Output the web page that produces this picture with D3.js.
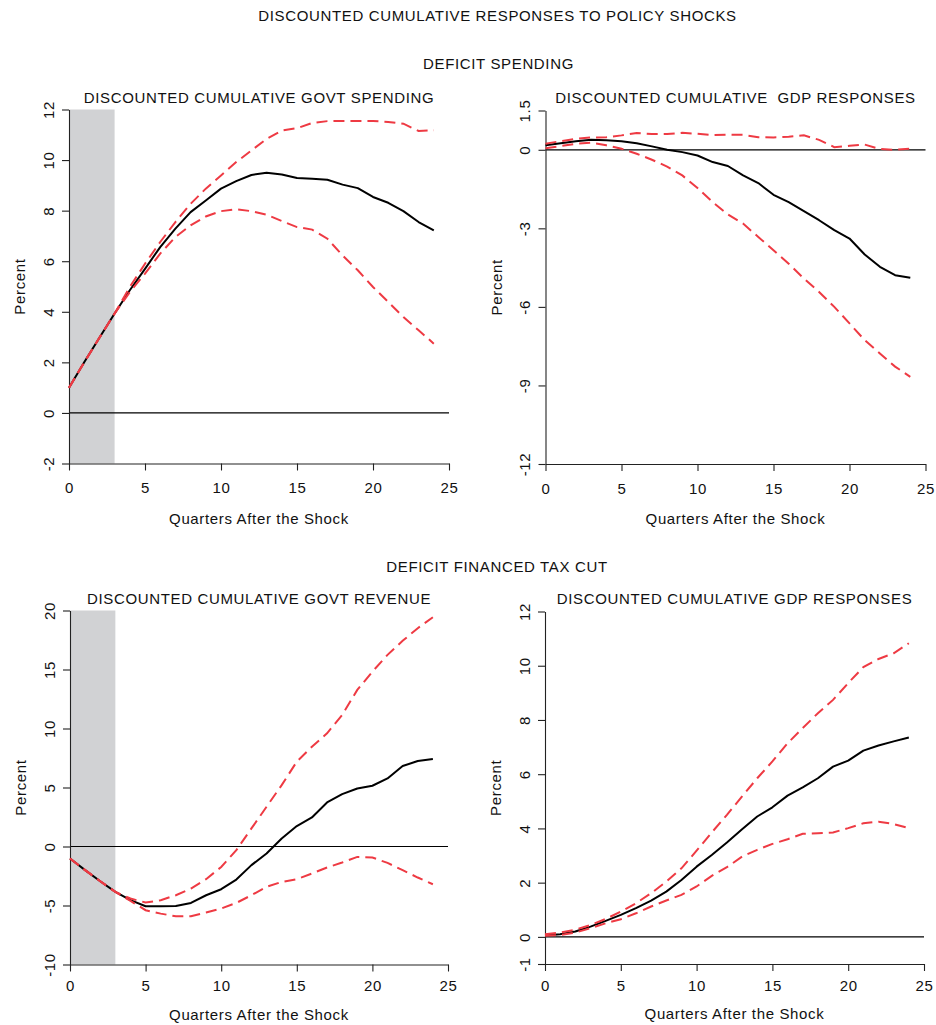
<!DOCTYPE html>
<html>
<head>
<meta charset="utf-8">
<script src="https://cdn.jsdelivr.net/npm/d3@7/dist/d3.min.js"></script>
<style>
  html, body { margin: 0; padding: 0; background: #fff; }
  svg { display: block; }
  text { font-family: "Liberation Sans", Arial, Helvetica, sans-serif; fill: #111; letter-spacing: 0.65px; }
</style>
</head>
<body>
<svg id="chart" width="936" height="1025"></svg>
<script>
// Horizon (quarters after the shock)
const quarters = [0,1,2,3,4,5,6,7,8,9,10,11,12,13,14,15,16,17,18,19,20,21,22,23,24];
const xTicks = [0,5,10,15,20,25];
// Quarters during which the policy shock is in place (shaded band)
const shockWindow = [0, 3];

// Deficit spending: discounted cumulative government spending (percent)
const spendGovtMean  = [1.0,2.0,2.97,3.93,4.85,5.7,6.56,7.29,7.94,8.4,8.87,9.17,9.41,9.5,9.43,9.29,9.26,9.22,9.03,8.89,8.54,8.31,7.98,7.55,7.22];
const spendGovtUpper = [1.0,2.0,2.97,3.93,4.98,5.9,6.76,7.55,8.27,8.87,9.39,9.92,10.38,10.84,11.17,11.26,11.47,11.54,11.55,11.55,11.55,11.51,11.44,11.15,11.18];
const spendGovtLower = [1.0,2.0,2.97,3.93,4.78,5.51,6.3,6.96,7.42,7.77,7.98,8.05,7.98,7.84,7.59,7.35,7.25,6.89,6.23,5.64,4.98,4.39,3.79,3.27,2.74];
const spendGovtTicks = [-2,0,2,4,6,8,10,12];

// Deficit spending: discounted cumulative GDP responses (percent)
const spendGdpMean  = [0.17,0.25,0.33,0.38,0.36,0.33,0.25,0.13,0.0,-0.09,-0.22,-0.47,-0.62,-0.98,-1.27,-1.72,-2.0,-2.34,-2.69,-3.07,-3.39,-4.0,-4.47,-4.79,-4.89];
const spendGdpUpper = [0.23,0.33,0.42,0.47,0.48,0.55,0.64,0.6,0.6,0.65,0.61,0.56,0.58,0.57,0.48,0.47,0.5,0.55,0.38,0.1,0.15,0.2,0.03,0.0,0.04];
const spendGdpLower = [0.06,0.14,0.23,0.27,0.17,0.04,-0.15,-0.38,-0.64,-0.98,-1.46,-2.0,-2.47,-2.82,-3.33,-3.84,-4.35,-4.92,-5.43,-6.0,-6.63,-7.27,-7.78,-8.28,-8.67];
const spendGdpTicks = [-12,-9,-6,-3,0,1.5];

// Deficit financed tax cut: discounted cumulative government revenue (percent)
const taxRevMean  = [-1.02,-2.0,-2.94,-3.85,-4.55,-5.06,-5.06,-5.04,-4.78,-4.13,-3.62,-2.8,-1.58,-0.59,0.68,1.73,2.46,3.73,4.44,4.92,5.15,5.77,6.82,7.24,7.41];
const taxRevUpper = [-1.02,-2.0,-2.94,-3.85,-4.41,-4.75,-4.55,-4.13,-3.56,-2.77,-1.73,-0.31,1.53,3.37,5.2,7.19,8.46,9.59,11.15,13.27,14.82,16.24,17.43,18.5,19.43];
const taxRevLower = [-1.02,-2.0,-2.94,-3.85,-4.61,-5.4,-5.69,-5.91,-5.91,-5.6,-5.26,-4.78,-4.13,-3.42,-3.0,-2.77,-2.29,-1.78,-1.36,-0.88,-0.93,-1.39,-2.01,-2.63,-3.2];
const taxRevTicks = [-10,-5,0,5,10,15,20];

// Deficit financed tax cut: discounted cumulative GDP responses (percent)
const taxGdpMean  = [0.05,0.1,0.2,0.38,0.59,0.81,1.06,1.34,1.67,2.1,2.59,3.02,3.48,3.97,4.44,4.78,5.21,5.51,5.85,6.28,6.5,6.87,7.06,7.21,7.35];
const taxGdpUpper = [0.1,0.16,0.26,0.44,0.66,0.93,1.24,1.61,2.04,2.53,3.18,3.85,4.5,5.18,5.85,6.47,7.14,7.7,8.25,8.74,9.36,9.95,10.25,10.46,10.83];
const taxGdpLower = [0.04,0.07,0.16,0.32,0.5,0.65,0.87,1.12,1.34,1.55,1.86,2.25,2.57,2.96,3.21,3.43,3.6,3.8,3.82,3.85,4.01,4.19,4.25,4.16,4.01];
const taxGdpTicks = [-1,0,2,4,6,8,10,12];

const svg = d3.select("#chart");
const RED = "#ee3a43";
const FONT = 15;
const FAMILY = '"Liberation Sans", Arial, Helvetica, sans-serif';

// Figure headings
svg.append("text").attr("x", 497.5).attr("y", 21).attr("text-anchor", "middle")
  .style("font-size", FONT + "px").text("DISCOUNTED CUMULATIVE RESPONSES TO POLICY SHOCKS");
svg.append("text").attr("x", 498.5).attr("y", 69).attr("text-anchor", "middle")
  .style("font-size", FONT + "px").text("DEFICIT SPENDING");
svg.append("text").attr("x", 497).attr("y", 572).attr("text-anchor", "middle")
  .style("font-size", FONT + "px").text("DEFICIT FINANCED TAX CUT");

// Panel layout
const panels = [
  { title: "DISCOUNTED CUMULATIVE GOVT SPENDING", left: 69, right: 449, top: 109.5, bottom: 463.5,
    yDomain: [-2, 12], yTicks: spendGovtTicks, mean: spendGovtMean, upper: spendGovtUpper, lower: spendGovtLower,
    shade: true, titleY: 102.5, xLabGap: 29.5, xTitleGap: 60 },
  { title: "DISCOUNTED CUMULATIVE  GDP RESPONSES", left: 545.5, right: 925.5, top: 110.5, bottom: 464,
    yDomain: [-12, 1.5], yTicks: spendGdpTicks, mean: spendGdpMean, upper: spendGdpUpper, lower: spendGdpLower,
    shade: false, titleY: 102.5, xLabGap: 29.5, xTitleGap: 60 },
  { title: "DISCOUNTED CUMULATIVE GOVT REVENUE", left: 70, right: 448, top: 610.5, bottom: 964.5,
    yDomain: [-10, 20], yTicks: taxRevTicks, mean: taxRevMean, upper: taxRevUpper, lower: taxRevLower,
    shade: true, titleY: 603.5, xLabGap: 26.5, xTitleGap: 55 },
  { title: "DISCOUNTED CUMULATIVE GDP RESPONSES", left: 545, right: 924, top: 611.5, bottom: 964,
    yDomain: [-1, 12], yTicks: taxGdpTicks, mean: taxGdpMean, upper: taxGdpUpper, lower: taxGdpLower,
    shade: false, titleY: 603.5, xLabGap: 26.5, xTitleGap: 55 }
];

panels.forEach(p => {
  const x = d3.scaleLinear().domain([0, 25]).range([p.left, p.right]);
  const y = d3.scaleLinear().domain(p.yDomain).range([p.bottom, p.top]);
  const g = svg.append("g");

  // Shock period band
  if (p.shade) {
    g.append("rect")
      .attr("x", x(shockWindow[0])).attr("width", x(shockWindow[1]) - x(shockWindow[0]))
      .attr("y", y(p.yDomain[1])).attr("height", y(p.yDomain[0]) - y(p.yDomain[1]))
      .attr("fill", "#d1d2d4");
  }

  // Zero reference line
  g.append("line")
    .attr("x1", x(0)).attr("x2", x(25)).attr("y1", y(0)).attr("y2", y(0))
    .attr("stroke", "#000").attr("stroke-width", 1.2);

  // Axes
  const xAxis = g.append("g").attr("transform", `translate(0,${p.bottom})`)
    .call(d3.axisBottom(x).tickValues(xTicks).tickSize(7).tickSizeOuter(0).tickFormat(d => String(d)));
  xAxis.selectAll("text").attr("y", p.xLabGap).attr("dy", 0);

  const yAxis = g.append("g").attr("transform", `translate(${p.left},0)`)
    .call(d3.axisLeft(y).tickValues(p.yTicks).tickSize(7).tickSizeOuter(0).tickFormat(d => String(d)));
  yAxis.selectAll("text")
    .attr("x", 0).attr("y", -15.5).attr("dy", 0)
    .attr("text-anchor", "middle").attr("transform", "rotate(-90)");

  [xAxis, yAxis].forEach(a => {
    a.select(".domain").attr("stroke", "#222").attr("stroke-width", 1.1);
    a.selectAll(".tick line").attr("stroke", "#222").attr("stroke-width", 1.1);
    a.selectAll("text").attr("fill", "#111")
      .style("font-family", FAMILY).style("font-size", FONT + "px");
  });

  // Axis titles
  g.append("text")
    .attr("x", (p.left + p.right) / 2).attr("y", p.bottom + p.xTitleGap)
    .attr("text-anchor", "middle").style("font-size", FONT + "px")
    .text("Quarters After the Shock");
  g.append("text")
    .attr("transform", `translate(${p.left - 44},${(p.top + p.bottom) / 2}) rotate(-90)`)
    .attr("text-anchor", "middle").style("font-size", FONT + "px")
    .text("Percent");

  // Panel title
  g.append("text")
    .attr("x", (p.left + p.right) / 2).attr("y", p.titleY)
    .attr("text-anchor", "middle").style("font-size", FONT + "px")
    .style("white-space", "pre")
    .text(p.title);

  // Point estimate and error bands
  const line = series => d3.line()
    .x((d, i) => x(quarters[i]))
    .y(d => y(d))(series);

  g.append("path").attr("d", line(p.mean))
    .attr("fill", "none").attr("stroke", "#000").attr("stroke-width", 2)
    .attr("stroke-linejoin", "round");
  [p.upper, p.lower].forEach(s => {
    g.append("path").attr("d", line(s))
      .attr("fill", "none").attr("stroke", RED).attr("stroke-width", 2)
      .attr("stroke-dasharray", "11,6");
  });
});
</script>
</body>
</html>
